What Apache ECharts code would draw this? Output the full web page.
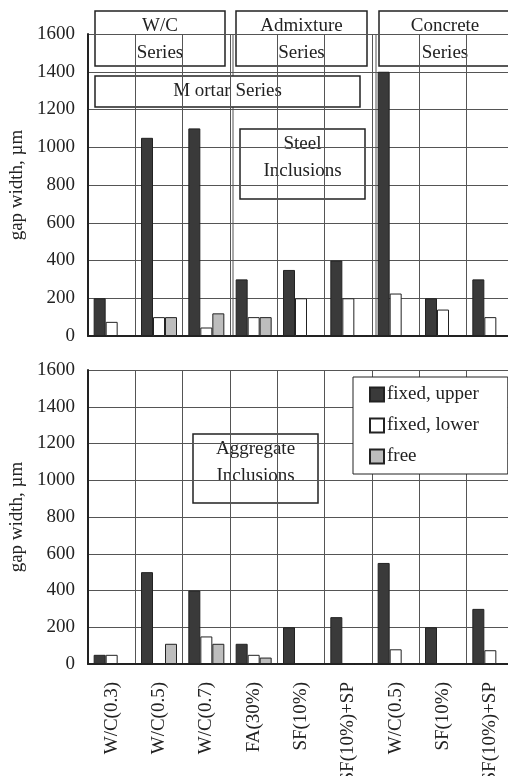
<!DOCTYPE html>
<html>
<head>
<meta charset="utf-8">
<script src="https://cdn.jsdelivr.net/npm/echarts@6/dist/echarts.min.js"></script>
<style>
  html, body { margin: 0; padding: 0; background: #fff; }
  #chart { width: 508px; height: 776px; }
</style>
</head>
<body>
<div id="chart"></div>
<script>
// categories along x (same for both panels)
const categories = ['W/C(0.3)', 'W/C(0.5)', 'W/C(0.7)', 'FA(30%)', 'SF(10%)', 'SF(10%)+SP', 'W/C(0.5)', 'SF(10%)', 'SF(10%)+SP'];
const seriesNames = ['fixed, upper', 'fixed, lower', 'free'];

// steel inclusions (top panel), gap width in µm
const steelUpper = [200, 1050, 1100, 300, 350, 400, 1400, 200, 300];
const steelLower = [75, 100, 45, 100, 200, 200, 225, 140, 100];
const steelFree  = [0, 100, 120, 100, 0, 0, 0, 0, 0];

// aggregate inclusions (bottom panel)
const aggUpper = [50, 500, 400, 110, 200, 255, 550, 200, 300];
const aggLower = [50, 0, 150, 50, 0, 0, 80, 0, 75];
const aggFree  = [0, 110, 110, 35, 0, 0, 0, 0, 0];

const yTicks = [0, 200, 400, 600, 800, 1000, 1200, 1400, 1600];

const FONT = 'Liberation Serif';
const colors = ['#3a3a3a', '#ffffff', '#bdbdbd'];

const chart = echarts.init(document.getElementById('chart'), null, { renderer: 'canvas' });

function yAxis(gridIndex) {
  return {
    type: 'value',
    gridIndex: gridIndex,
    min: yTicks[0],
    max: yTicks[yTicks.length - 1],
    interval: yTicks[1] - yTicks[0],
    name: 'gap width, µm',
    nameLocation: 'middle',
    nameRotate: 90,
    nameGap: 60,
    nameTextStyle: { fontFamily: FONT, fontSize: 19, color: '#222' },
    axisLine: { show: true, lineStyle: { color: '#222', width: 2 } },
    axisTick: { show: false },
    axisLabel: { margin: 13, fontFamily: FONT, fontSize: 19, color: '#222',
                 formatter: v => String(v) },
    splitLine: { show: true, lineStyle: { color: '#555', width: 1 } }
  };
}

function xAxis(gridIndex, showLabels) {
  return {
    type: 'category',
    gridIndex: gridIndex,
    data: categories,
    axisLine: { show: true, lineStyle: { color: '#222', width: 2 } },
    axisTick: { show: false },
    axisLabel: {
      show: showLabels, interval: 0, rotate: 90, margin: 18,
      fontFamily: FONT, fontSize: 19, color: '#222'
    },
    splitLine: { show: true, interval: 0, lineStyle: { color: '#555', width: 1 } }
  };
}

function bars(gridIndex, data) {
  return data.map((d, i) => ({
    name: seriesNames[i],
    type: 'bar',
    xAxisIndex: gridIndex,
    yAxisIndex: gridIndex,
    data: d,
    barWidth: 12,
    barGap: '0%',
    itemStyle: { color: colors[i], borderColor: '#222', borderWidth: 1 }
  }));
}

// annotation box: rect + centered text (dy nudges the text block)
function box(x, y, w, h, text, cx, dy) {
  return {
    type: 'group',
    z: 100,
    children: [
      { type: 'rect', shape: { x: x, y: y, width: w, height: h },
        style: { fill: '#fff', stroke: '#222', lineWidth: 1.5 } },
      { type: 'text', x: cx == null ? x + w / 2 : cx, y: y + h / 2 + (dy || 0),
        style: { text: text, fontFamily: FONT, fontSize: 19, fill: '#222',
                 align: 'center', verticalAlign: 'middle', lineHeight: 27 } }
    ]
  };
}

const option = {
  backgroundColor: '#fff',
  animation: false,
  grid: [
    { left: 88, width: 426, top: 34, height: 302, outerBoundsMode: 'none' },
    { left: 88, width: 426, top: 370, height: 294, outerBoundsMode: 'none' }
  ],
  xAxis: [xAxis(0, false), xAxis(1, true)],
  yAxis: [yAxis(0), yAxis(1)],
  legend: {
    data: seriesNames,
    orient: 'vertical',
    left: 353,
    top: 377,
    padding: [8, 29, 8, 16],
    itemGap: 12,
    itemWidth: 14,
    itemHeight: 14,
    icon: 'rect',
    backgroundColor: '#fff',
    borderColor: '#222',
    borderWidth: 1,
    textStyle: { fontFamily: FONT, fontSize: 19, color: '#222', padding: [0, 0, 0, -2] },
    z: 100
  },
  series: bars(0, [steelUpper, steelLower, steelFree]).concat(
          bars(1, [aggUpper, aggLower, aggFree])),
  graphic: [
    // group separators in the top panel
    { type: 'line', shape: { x1: 233, y1: 34, x2: 233, y2: 336 }, style: { stroke: '#555', lineWidth: 1 } },
    { type: 'line', shape: { x1: 376, y1: 34, x2: 376, y2: 336 }, style: { stroke: '#555', lineWidth: 1 } },
    box(95, 11, 130, 55, 'W/C\nSeries', null, 1),
    box(236, 11, 131, 55, 'Admixture\nSeries', null, 1),
    box(379, 11, 140, 55, 'Concrete\nSeries', 445, 1),
    box(95, 76, 265, 31, 'M ortar Series'),
    box(240, 129, 125, 70, 'Steel\nInclusions', null, -6),
    box(193, 434, 125, 69, 'Aggregate\nInclusions', null, -6)
  ]
};

chart.setOption(option);
</script>
</body>
</html>
